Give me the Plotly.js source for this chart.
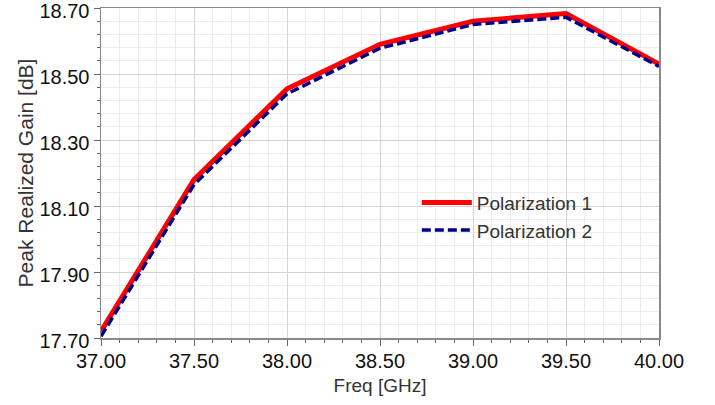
<!DOCTYPE html>
<html>
<head>
<meta charset="utf-8">
<script src="https://cdn.plot.ly/plotly-3.0.1.min.js"></script>
<style>
html,body{margin:0;padding:0;background:#fff;}
#chart{width:715px;height:405px;}
</style>
</head>
<body>
<div id="chart"></div>
<script>
const freq = [37.0, 37.5, 38.0, 38.5, 39.0, 39.5, 40.0];
const pol1 = [17.72, 18.18, 18.455, 18.59, 18.66, 18.683, 18.53];
const pol2 = [17.705, 18.165, 18.44, 18.578, 18.65, 18.672, 18.523];
const xTicks = [37.0, 37.5, 38.0, 38.5, 39.0, 39.5, 40.0];
const yTicks = [17.7, 17.9, 18.1, 18.3, 18.5, 18.7];
const seriesNames = ["Polarization 1", "Polarization 2"];
const xTitle = "Freq [GHz]";
const yTitle = "Peak Realized Gain [dB]";

const font = "Liberation Sans, Arial, sans-serif";

const data = [
  {x: freq, y: pol1, name: seriesNames[0], mode: "lines",
   line: {color: "#ff0000", width: 5}},
  {x: freq, y: pol2, name: seriesNames[1], mode: "lines",
   line: {color: "#00008b", width: 3.5, dash: "9px,4px"}}
];

const layout = {
  width: 715, height: 405,
  margin: {l: 101, r: 56, t: 8, b: 67},
  paper_bgcolor: "#ffffff", plot_bgcolor: "#ffffff",
  font: {family: font, color: "#111", size: 20},
  showlegend: true,
  legend: {x: 0.566, y: 0.468, xanchor: "left", yanchor: "top",
           bgcolor: "rgba(0,0,0,0)", font: {size: 19, color: "#333", family: font},
           tracegroupgap: 2, itemwidth: 50},
  xaxis: {
    range: [37, 40], tickmode: "array", tickvals: xTicks, tickformat: ".2f",
    showline: true, linecolor: "#888", linewidth: 1.5, mirror: true,
    ticks: "outside", ticklen: 6, tickcolor: "#666",
    showgrid: true, gridcolor: "#d4d4d4", gridwidth: 1, zeroline: false,
    ticklabeloverflow: "allow", ticklabelstandoff: -2,
    tickfont: {size: 20, color: "#111"},
    minor: {dtick: 0.1, tick0: 37, ticks: "outside", ticklen: 3, tickcolor: "#666",
            showgrid: true, gridcolor: "#ececec", gridwidth: 1},
    title: {text: xTitle, font: {size: 19, color: "#333"}, standoff: 8}
  },
  yaxis: {
    range: [17.7, 18.7], tickmode: "array", tickvals: yTicks, tickformat: ".2f",
    showline: true, linecolor: "#888", linewidth: 1.5, mirror: true,
    ticks: "outside", ticklen: 6, tickcolor: "#666",
    showgrid: true, gridcolor: "#d4d4d4", gridwidth: 1, zeroline: false,
    ticklabeloverflow: "allow", ticklabelshift: 3,
    tickfont: {size: 20, color: "#111"},
    minor: {dtick: 0.04, tick0: 17.7, ticks: "outside", ticklen: 3, tickcolor: "#666",
            showgrid: true, gridcolor: "#ececec", gridwidth: 1},
    title: {text: yTitle, font: {size: 21, color: "#333"}, standoff: 0}
  }
};

Plotly.newPlot("chart", data, layout, {displayModeBar: false, staticPlot: true});
</script>
</body>
</html>
